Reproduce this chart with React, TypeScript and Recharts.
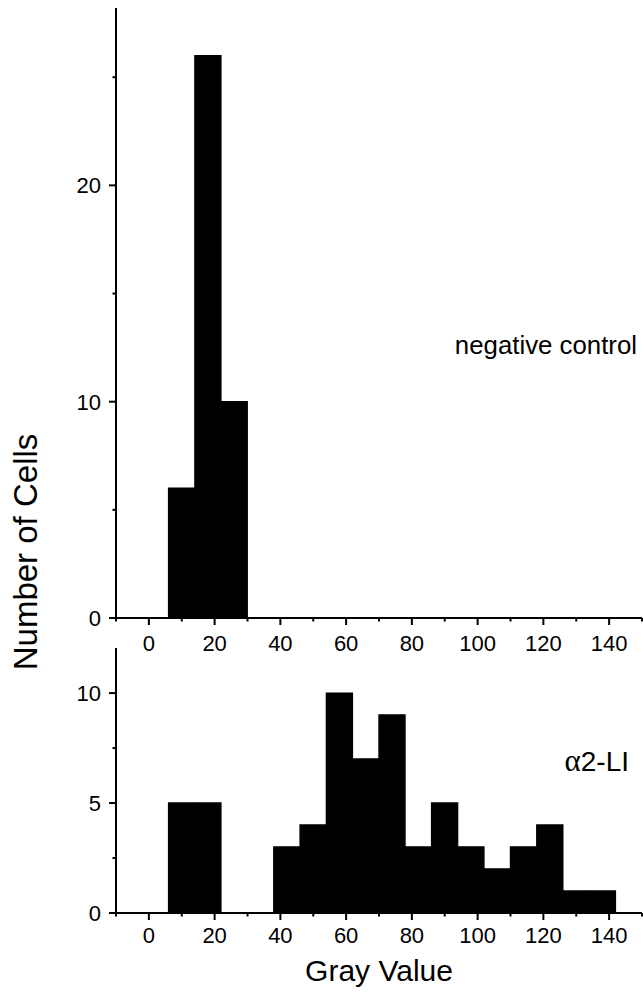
import React from 'react';
import { BarChart, Bar, XAxis, YAxis } from 'recharts';

// histogram bins are 8 gray units wide, from -10 to 150 (centres listed)
const binCenters = [-6, 2, 10, 18, 26, 34, 42, 50, 58, 66, 74, 82, 90, 98, 106, 114, 122, 130, 138, 146];
const negativeControl = [0, 0, 6, 26, 10, 0, 0, 0, 0, 0, 0, 0, 0, 0, 0, 0, 0, 0, 0, 0];
const alpha2Li = [0, 0, 5, 5, 0, 0, 3, 4, 10, 7, 9, 3, 5, 3, 2, 3, 4, 1, 1, 0];

const xTicks = [-10, 0, 10, 20, 30, 40, 50, 60, 70, 80, 90, 100, 110, 120, 130, 140, 150];
const xLabels = [0, 20, 40, 60, 80, 100, 120, 140];
const topYTicks = [0, 5, 10, 15, 20, 25];
const topYLabels = [0, 10, 20];
const bottomYTicks = [0, 2.5, 5, 7.5, 10];
const bottomYLabels = [0, 5, 10];

const topData = binCenters.map((bin, i) => ({ bin, count: negativeControl[i] }));
const bottomData = binCenters.map((bin, i) => ({ bin, count: alpha2Li[i] }));

const FONT = '"Liberation Sans", Arial, Helvetica, sans-serif';

const makeXTick = (labelOffset: number) => (props: any) => {
  const { x, y, payload } = props;
  const major = xLabels.includes(payload.value);
  return (
    <g>
      <line x1={x} x2={x} y1={y} y2={y + (major ? 7 : 3.5)} stroke="#000" strokeWidth={2} />
      {major && (
        <text x={x} y={y + labelOffset} textAnchor="middle" fontSize={22} fontFamily={FONT} fill="#000">
          {payload.value}
        </text>
      )}
    </g>
  );
};

const makeYTick = (labels: number[]) => (props: any) => {
  const { x, y, payload } = props;
  const major = labels.includes(payload.value);
  return (
    <g>
      <line x1={x} x2={x - (major ? 7 : 3.5)} y1={y} y2={y} stroke="#000" strokeWidth={2} />
      {major && (
        <text x={x - 15} y={y + 8} textAnchor="end" fontSize={22} fontFamily={FONT} fill="#000">
          {payload.value}
        </text>
      )}
    </g>
  );
};

const axisLine = { stroke: '#000', strokeWidth: 2 };

export default function App() {
  return (
    <div style={{ position: 'absolute', left: 0, top: 0, width: 643, height: 993, background: '#fff', overflow: 'hidden' }}>
      <div style={{ position: 'absolute', left: 0, top: 0 }}>
        <BarChart
          width={643}
          height={680}
          data={topData}
          margin={{ top: 8, right: 1, bottom: 32, left: 56 }}
          barCategoryGap={0}
          barGap={0}
        >
          <XAxis xAxisId="cat" dataKey="bin" hide height={0} />
          <XAxis
            xAxisId="num"
            dataKey="bin"
            type="number"
            domain={[-10, 150]}
            allowDataOverflow
            ticks={xTicks}
            interval={0}
            height={30}
            axisLine={axisLine}
            tickLine={false}
            tickSize={0}
            tickMargin={0}
            tick={makeXTick(33)}
          />
          <YAxis
            type="number"
            domain={[0, 28.2]}
            allowDataOverflow
            ticks={topYTicks}
            interval={0}
            width={60}
            axisLine={axisLine}
            tickLine={false}
            tickSize={0}
            tickMargin={0}
            tick={makeYTick(topYLabels)}
          />
          <Bar xAxisId="cat" dataKey="count" fill="#000" stroke="#000" strokeWidth={1.4} isAnimationActive={false} />
        </BarChart>
      </div>
      <div style={{ position: 'absolute', left: 0, top: 640 }}>
        <BarChart
          width={643}
          height={353}
          data={bottomData}
          margin={{ top: 8, right: 1, bottom: 50, left: 56 }}
          barCategoryGap={0}
          barGap={0}
        >
          <XAxis xAxisId="cat" dataKey="bin" hide height={0} />
          <XAxis
            xAxisId="num"
            dataKey="bin"
            type="number"
            domain={[-10, 150]}
            allowDataOverflow
            ticks={xTicks}
            interval={0}
            height={30}
            axisLine={axisLine}
            tickLine={false}
            tickSize={0}
            tickMargin={0}
            tick={makeXTick(30)}
          />
          <YAxis
            type="number"
            domain={[0, 12.05]}
            allowDataOverflow
            ticks={bottomYTicks}
            interval={0}
            width={60}
            axisLine={axisLine}
            tickLine={false}
            tickSize={0}
            tickMargin={0}
            tick={makeYTick(bottomYLabels)}
          />
          <Bar xAxisId="cat" dataKey="count" fill="#000" stroke="#000" strokeWidth={1.4} isAnimationActive={false} />
        </BarChart>
      </div>
      <svg
        width={643}
        height={993}
        style={{ position: 'absolute', left: 0, top: 0, pointerEvents: 'none' }}
        fontFamily={FONT}
      >
        <text
          x={25}
          y={552}
          transform="rotate(-90, 25, 552)"
          textAnchor="middle"
          dy="0.35em"
          fontSize={33}
          fill="#000"
        >
          Number of Cells
        </text>
        <text x={379} y={981} textAnchor="middle" fontSize={30} fill="#000">
          Gray Value
        </text>
        <text x={637} y={354} textAnchor="end" fontSize={25.8} fill="#000">
          negative control
        </text>
        <text x={629} y={771} textAnchor="end" fontSize={28} fill="#000">
          <tspan fontFamily='"Liberation Serif", "Times New Roman", serif' fontSize={31}>α</tspan>2-LI
        </text>
      </svg>
    </div>
  );
}
